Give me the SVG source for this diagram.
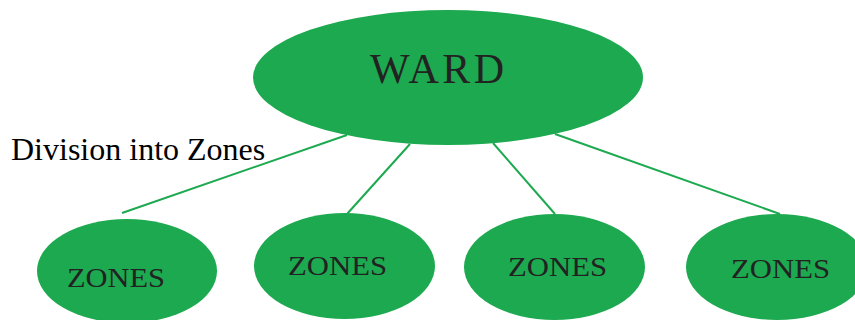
<svg xmlns="http://www.w3.org/2000/svg" width="855" height="320" viewBox="0 0 855 320">
<style>
.node { fill: #1ca94f; }
.lbl { font-family: "Liberation Serif", "Times New Roman", serif; fill: #222222; }
.conn { stroke: #1ca94f; stroke-width: 2; fill: none; }
</style>
<rect width="855" height="320" fill="#ffffff"/>
<g id="connectors">
<line class="conn" x1="347" y1="135" x2="122" y2="213"/>
<line class="conn" x1="410" y1="144" x2="347" y2="214"/>
<line class="conn" x1="493" y1="143" x2="555" y2="214"/>
<line class="conn" x1="555" y1="134" x2="780" y2="214"/>
</g>
<g id="ward">
<ellipse class="node" cx="448" cy="77.5" rx="195" ry="67.5"/>
<text class="lbl" x="370" y="83" font-size="42" letter-spacing="3" textLength="137" lengthAdjust="spacing">WARD</text>
</g>
<g id="zone1">
<ellipse class="node" cx="127" cy="271" rx="90" ry="52"/>
<text class="lbl" x="67" y="287" font-size="28" textLength="98" lengthAdjust="spacingAndGlyphs">ZONES</text>
</g>
<g id="zone2">
<ellipse class="node" cx="344.5" cy="266" rx="90.5" ry="53"/>
<text class="lbl" x="288" y="275" font-size="28" textLength="99" lengthAdjust="spacingAndGlyphs">ZONES</text>
</g>
<g id="zone3">
<ellipse class="node" cx="554.5" cy="267" rx="90.5" ry="53"/>
<text class="lbl" x="508" y="276" font-size="28" textLength="99" lengthAdjust="spacingAndGlyphs">ZONES</text>
</g>
<g id="zone4">
<ellipse class="node" cx="777" cy="267" rx="91" ry="53"/>
<text class="lbl" x="731" y="278" font-size="28" textLength="99" lengthAdjust="spacingAndGlyphs">ZONES</text>
</g>
<g id="caption">
<text x="11" y="160" font-family="'Liberation Serif', 'Times New Roman', serif" font-size="32" fill="#000000">Division into Zones</text>
</g>
</svg>
